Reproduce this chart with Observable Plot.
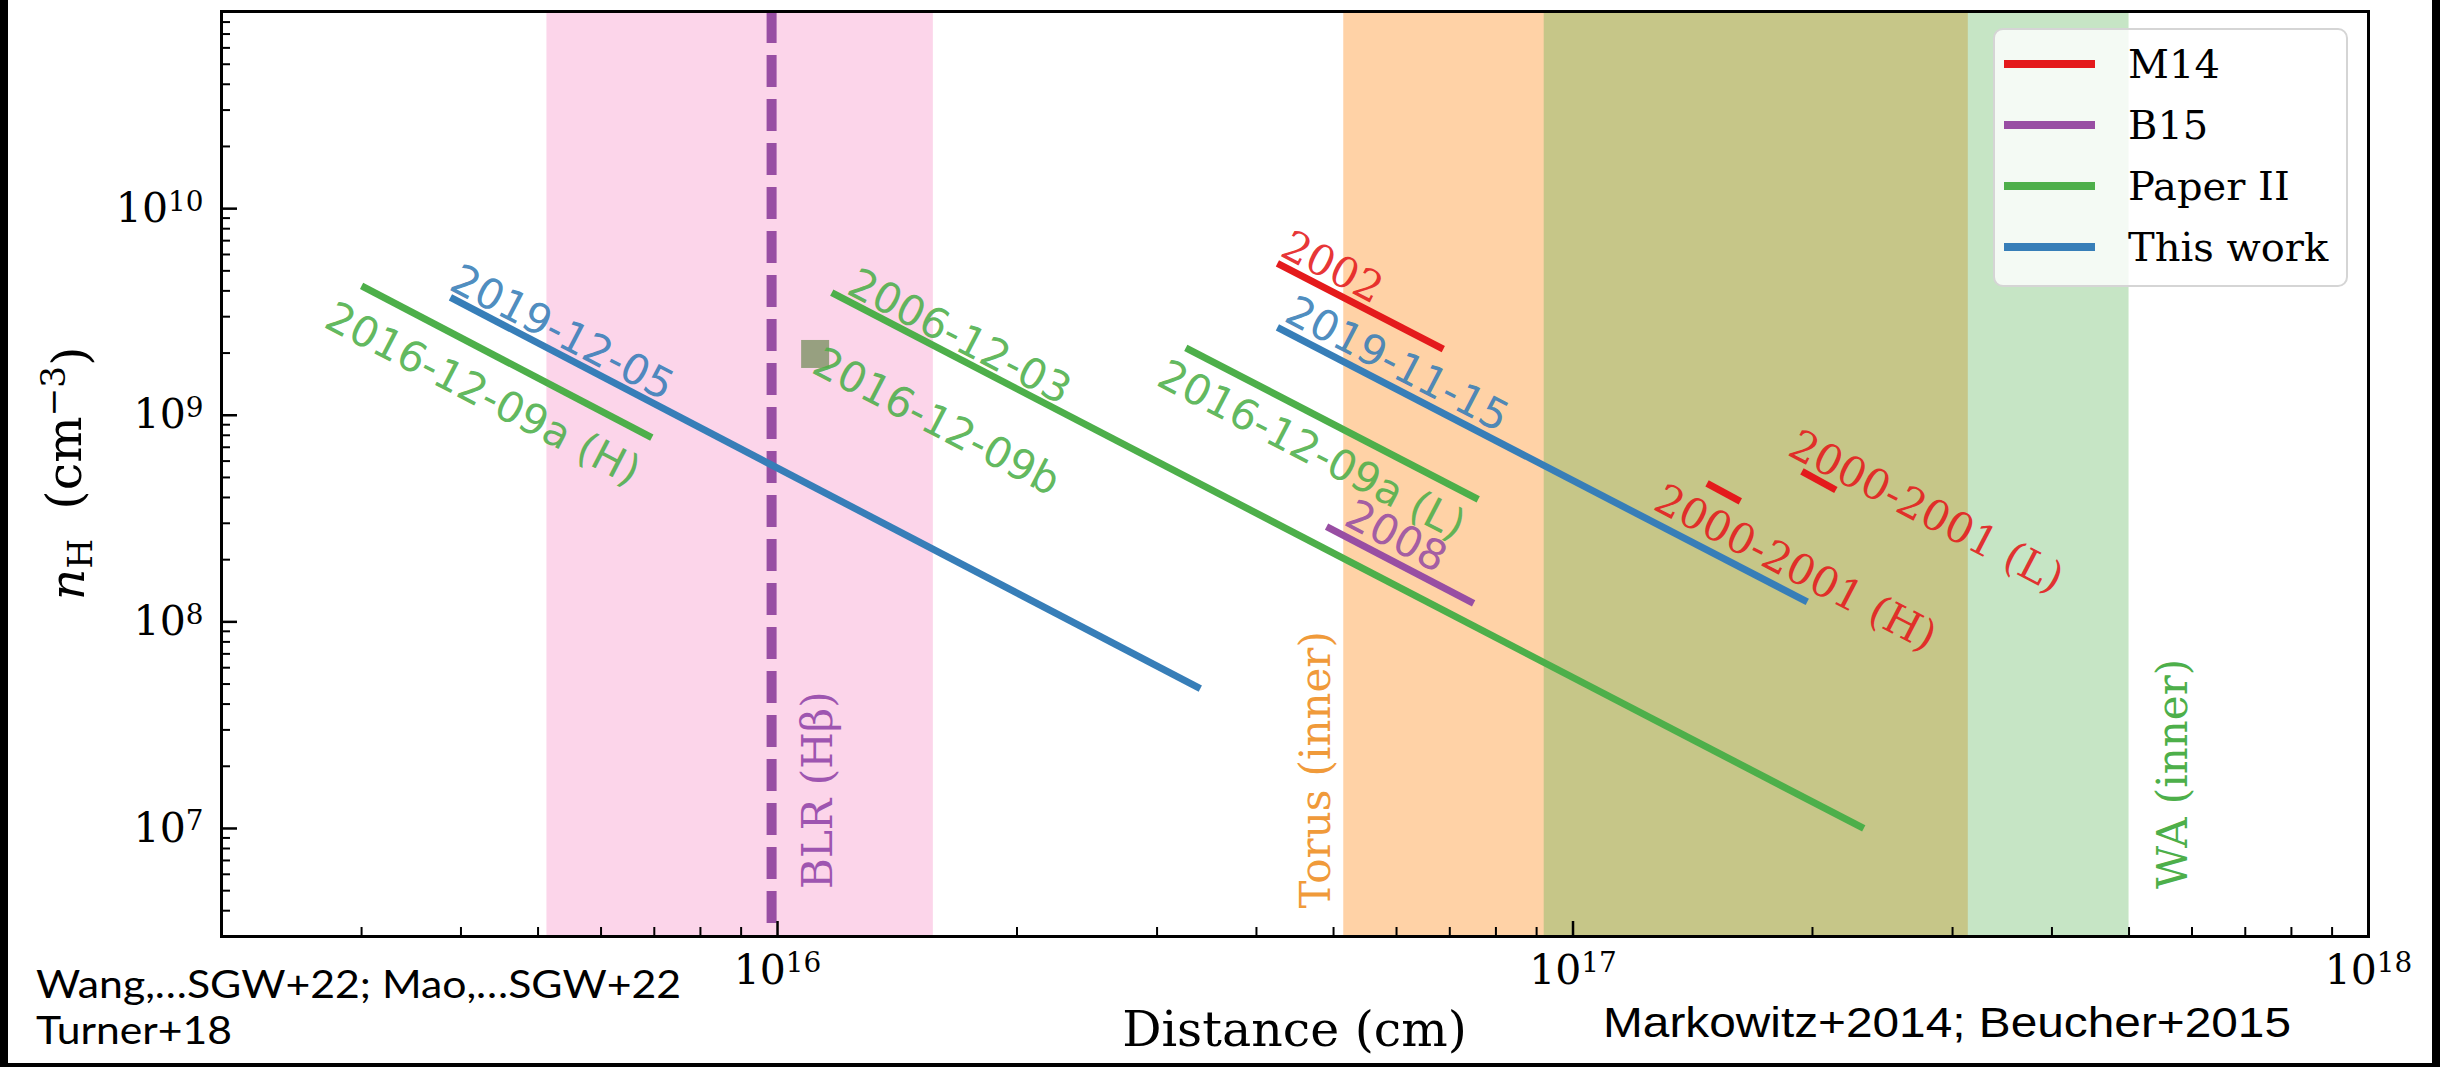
<!DOCTYPE html>
<html><head><meta charset="utf-8">
<script src="https://cdn.jsdelivr.net/npm/d3@7"></script>
<script src="https://cdn.jsdelivr.net/npm/@observablehq/plot@0.6"></script>
<style>
html,body{margin:0;padding:0;background:#fff;}
#chart{width:2440px;height:1067px;}
</style></head><body><div id="chart"></div>
<script>
// ---- series (legend) ----
const seriesNames = ["M14", "B15", "Paper II", "This work"];
const seriesColors = ["#e41a1c", "#984ea3", "#4daf4a", "#377eb8"];

// ---- density segments: n_H vs distance ----
const segLabels = ["2016-12-09a (H)", "2019-12-05", "2006-12-03", "2016-12-09a (L)", "2002", "2019-11-15", "2008", "2000-2001 (H)", "2000-2001 (L)"];
const segSeries = ["Paper II", "This work", "Paper II", "Paper II", "M14", "This work", "B15", "M14", "M14"];
const segX1 = [3.0e15, 3.88e15, 1.17e16, 3.26e16, 4.25e16, 4.25e16, 4.9e16, 1.474e17, 1.94e17];
const segY1 = [4.23e9, 3.72e9, 3.92e9, 2.12e9, 5.44e9, 2.66e9, 2.89e8, 4.68e8, 5.35e8];
const segX2 = [6.95e15, 3.40e16, 2.32e17, 7.6e16, 6.87e16, 1.97e17, 7.5e16, 1.623e17, 2.14e17];
const segY2 = [7.8e8, 4.75e7, 1.0e7, 3.92e8, 2.09e9, 1.25e8, 1.23e8, 3.83e8, 4.35e8];
const segLabelX = [4.26e15, 5.36e15, 1.693e16, 4.69e16, 4.98e16, 6.01e16, 5.99e16, 1.904e17, 2.78e17];
const segLabelY = [1.26e9, 2.50e9, 2.39e9, 6.74e8, 5.18e9, 1.76e9, 2.58e8, 1.82e8, 3.40e8];

// ---- single point ----
const ptLabel = ["2016-12-09b"];
const ptX = [1.115e16];
const ptY = [1.98e9];
const ptLabelX = [1.584e16];
const ptLabelY = [9.26e8];

// ---- regions ----
const bandNames = ["BLR (H\u03B2)", "Torus (inner)", "WA (inner)"];
const bandX1 = [5.13e15, 5.15e16, 9.2e16];
const bandX2 = [1.57e16, 3.14e17, 5.0e17];
const bandColors = ["#f781bf", "#ff7f00", "#4daf4a"];
const bandOpacity = [0.33, 0.35, 0.32];
const bandTextColors = ["#9e55b0", "#f09a3a", "#4daf4a"];
const bandLabelX = [1.125e16, 4.76e16, 5.69e17];
const bandLabelY = [5.1e6, 4.1e6, 5.1e6];
const blrLineX = [9.83e15];

// ---- axes ----
const xDomain = [2e15, 1e18];
const yDomain = [3e6, 9e10];
const xMajor = [1e16, 1e17, 1e18];
const yMajor = [1e7, 1e8, 1e9, 1e10];
const xMinor = [];
for (const d of [1e15, 1e16, 1e17]) for (let k = 2; k <= 9; k++) { const v = k * d; if (v >= xDomain[0] && v <= xDomain[1]) xMinor.push(v); }
const yMinor = [];
for (const d of [1e6, 1e7, 1e8, 1e9, 1e10]) for (let k = 2; k <= 9; k++) { const v = k * d; if (v >= yDomain[0] * 0.999 && v <= yDomain[1] * 1.001) yMinor.push(v); }

const colorOf = s => seriesColors[seriesNames.indexOf(s)];
const segs = segLabels.map((l, i) => ({label: l, series: segSeries[i], x1: segX1[i], y1: segY1[i], x2: segX2[i], y2: segY2[i], lx: segLabelX[i], ly: segLabelY[i], color: colorOf(segSeries[i])}));
const pts = ptLabel.map((l, i) => ({label: l, x: ptX[i], y: ptY[i], lx: ptLabelX[i], ly: ptLabelY[i]}));
const bands = bandNames.map((n, i) => ({name: n, x1: bandX1[i], x2: bandX2[i], color: bandColors[i], op: bandOpacity[i], tc: bandTextColors[i], lx: bandLabelX[i], ly: bandLabelY[i]}));

const W = 2440, H = 1067;
const mL = 221, mR = 72, mT = 11, mB = 131;
const fw = W - mL - mR, fh = H - mT - mB;
const serif = "DejaVu Serif", sans = "DejaVu Sans";

const marks = [];
bands.forEach(b => marks.push(Plot.rect([b], {x1: "x1", x2: "x2", fill: b.color, fillOpacity: b.op})));
marks.push(Plot.ruleX(blrLineX, {x: d => d, stroke: "#984ea3", strokeWidth: 10, strokeDasharray: "32,12"}));
marks.push(Plot.link(segs, {x1: "x1", y1: "y1", x2: "x2", y2: "y2", stroke: "color", strokeWidth: 7}));
marks.push(Plot.dot(pts, {x: "x", y: "y", symbol: "square", r: 15.8, fill: "#97a080", stroke: "none"}));
// segment labels
marks.push(Plot.text(segs.filter(d => d.series !== "M14"), {x: "lx", y: "ly", text: "label", fill: "color", rotate: 27.46, fontSize: 42, fontFamily: sans, textAnchor: "middle", lineAnchor: "middle", fillOpacity: 0.9}));
marks.push(Plot.text(segs.filter(d => d.series === "M14"), {x: "lx", y: "ly", text: "label", fill: "color", rotate: 27.46, fontSize: 42, fontFamily: serif, textAnchor: "middle", lineAnchor: "middle", fillOpacity: 0.9}));
marks.push(Plot.text(pts, {x: "lx", y: "ly", text: "label", fill: "#4daf4a", rotate: 27.46, fontSize: 42, fontFamily: sans, textAnchor: "middle", lineAnchor: "middle", fillOpacity: 0.9}));
// band labels
marks.push(Plot.text(bands, {x: "lx", y: "ly", text: "name", fill: "tc", rotate: -90, fontSize: 42, fontFamily: serif, textAnchor: "start", lineAnchor: "middle"}));
// ticks (inward)
marks.push(Plot.tickX(xMinor, {x: d => d, stroke: "black", strokeWidth: 2, insetTop: fh - 9}));
marks.push(Plot.tickX(xMajor, {x: d => d, stroke: "black", strokeWidth: 2.5, insetTop: fh - 15}));
marks.push(Plot.tickY(yMinor, {y: d => d, stroke: "black", strokeWidth: 2, insetRight: fw - 9}));
marks.push(Plot.tickY(yMajor, {y: d => d, stroke: "black", strokeWidth: 2.5, insetRight: fw - 16}));
// tick labels
const fmt = d => "10^" + Math.round(Math.log10(d));
marks.push(Plot.text(xMajor, {x: d => d, text: fmt, frameAnchor: "bottom", dy: 47, lineAnchor: "bottom", fontSize: 41, fontFamily: serif, fill: "black"}));
marks.push(Plot.text(yMajor, {y: d => d, text: fmt, frameAnchor: "left", dx: -18, textAnchor: "end", lineAnchor: "middle", fontSize: 41, fontFamily: serif, fill: "black"}));
marks.push(Plot.frame({stroke: "black", strokeWidth: 3}));

const svgNode = Plot.plot({
  width: W, height: H,
  marginLeft: mL, marginRight: mR, marginTop: mT, marginBottom: mB,
  x: {type: "log", domain: xDomain, axis: null},
  y: {type: "log", domain: yDomain, axis: null},
  color: {type: "identity"},
  style: {fontFamily: serif, background: "white", overflow: "visible"},
  marks
});
document.getElementById("chart").appendChild(svgNode);
const svg = d3.select(svgNode);

// superscript tick labels
svg.selectAll("text").each(function () {
  const m = (this.textContent || "").match(/^10\^(\d+)$/);
  if (m) {
    const t = d3.select(this);
    this.textContent = "";
    t.append("tspan").text("10");
    t.append("tspan").attr("dy", "-0.40em").attr("font-size", "0.68em").text(m[1]);
  }
});

// axis labels
svg.append("text").attr("x", mL + fw / 2).attr("y", 1046).attr("text-anchor", "middle")
  .attr("font-family", serif).attr("font-size", 49).attr("fill", "black").text("Distance (cm)");
const yl = svg.append("text").attr("transform", `translate(84,${mT + fh / 2}) rotate(-90)`)
  .attr("text-anchor", "middle").attr("font-family", serif).attr("font-size", 49).attr("fill", "black");
yl.append("tspan").attr("font-style", "italic").text("n");
yl.append("tspan").attr("dy", "0.22em").attr("font-size", "0.7em").text("H");
yl.append("tspan").attr("dy", "-0.22em").attr("dx", "0.6em").text("(cm");
yl.append("tspan").attr("dy", "-0.45em").attr("font-size", "0.7em").text("\u22123");
yl.append("tspan").attr("dy", "0.45em").text(")");

// legend
const lg = svg.append("g").attr("text-anchor", "start");
lg.append("rect").attr("x", 1994).attr("y", 29).attr("width", 353).attr("height", 257).attr("rx", 9)
  .attr("fill", "white").attr("fill-opacity", 0.8).attr("stroke", "#d5d5d5").attr("stroke-width", 2);
seriesNames.forEach((n, i) => {
  const yy = 64 + i * 61;
  lg.append("line").attr("x1", 2004).attr("x2", 2095).attr("y1", yy).attr("y2", yy)
    .attr("stroke", seriesColors[i]).attr("stroke-width", 8);
  lg.append("text").attr("x", 2128).attr("y", yy).attr("dy", "0.35em").attr("font-family", serif)
    .attr("text-anchor", "start").attr("font-size", 40).attr("fill", "black").text(n);
});

// source notes
const notes = svg.append("g").attr("text-anchor", "start");
notes.append("text").attr("x", 36).attr("y", 998).attr("font-family", "Lato").attr("font-size", 38)
  .attr("text-anchor", "start").attr("textLength", 645).attr("lengthAdjust", "spacingAndGlyphs").attr("fill", "black").text("Wang,\u2026SGW+22; Mao,\u2026SGW+22");
notes.append("text").attr("x", 36).attr("y", 1044).attr("font-family", "Lato").attr("font-size", 38)
  .attr("text-anchor", "start").attr("textLength", 196).attr("lengthAdjust", "spacingAndGlyphs").attr("fill", "black").text("Turner+18");
notes.append("text").attr("x", 1603).attr("y", 1037).attr("font-family", "Liberation Sans").attr("font-size", 42)
  .attr("text-anchor", "start").attr("textLength", 688).attr("lengthAdjust", "spacingAndGlyphs").attr("fill", "black").text("Markowitz+2014; Beucher+2015");

// outer border
svg.append("rect").attr("x", 0).attr("y", 0).attr("width", 8).attr("height", H).attr("fill", "black");
svg.append("rect").attr("x", W - 8).attr("y", 0).attr("width", 8).attr("height", H).attr("fill", "black");
svg.append("rect").attr("x", 0).attr("y", H - 4).attr("width", W).attr("height", 4).attr("fill", "black");
</script></body></html>
